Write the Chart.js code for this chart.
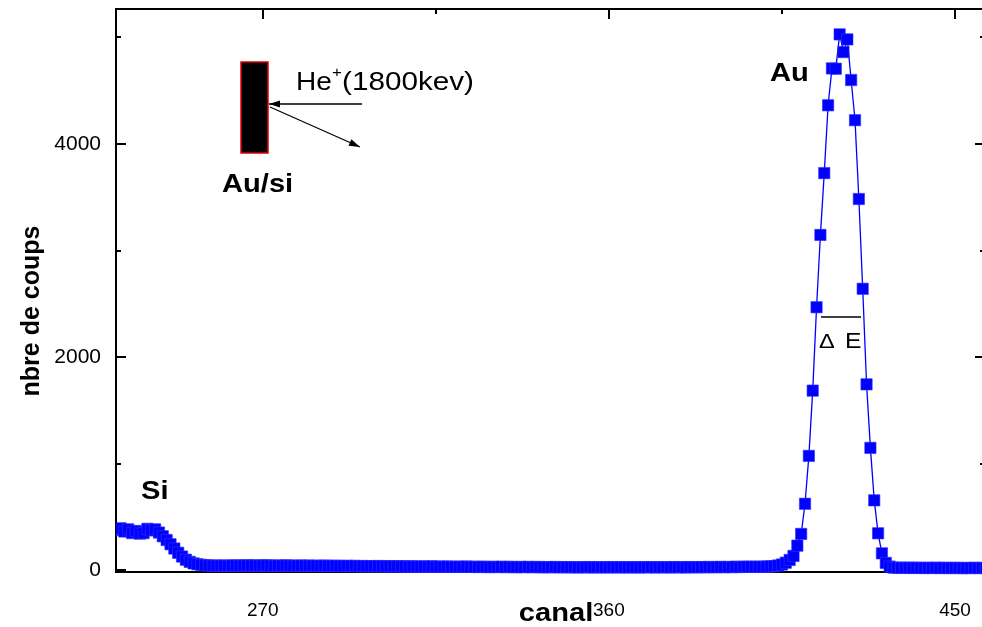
<!DOCTYPE html>
<html><head><meta charset="utf-8">
<script src="https://cdn.jsdelivr.net/npm/chart.js@4/dist/chart.umd.min.js"></script>
<style>
html,body{margin:0;padding:0;overflow:hidden;background:#fff}
#c{display:block;width:982px;height:627px}
</style>
</head><body><canvas id="c" width="982" height="627"></canvas>
<script>
// ---- data (channel -> counts) ----
const siStart = 232;
const siCounts = [380, 395, 365, 385, 350, 370, 345, 350, 390, 375,
                  385, 355, 320, 285, 245, 205, 165, 130, 100, 80,
                  66, 58, 52, 48, 46, 45];
const baselineStart = 258;
const baselineCounts = [
  45, 44, 46, 43, 45, 47, 44, 46, 48, 45,
  47, 44, 46, 48, 45, 43, 46, 44, 47, 45,
  43, 44, 46, 42, 45, 43, 44, 42, 45, 43,
  41, 44, 42, 40, 43, 41, 42, 40, 41, 39,
  40, 38, 41, 39, 37, 40, 38, 39, 37, 38,
  36, 38, 37, 35, 37, 36, 38, 35, 36, 34,
  36, 35, 33, 35, 34, 36, 33, 34, 32, 34,
  33, 31, 33, 32, 34, 31, 33, 32, 30, 32,
  31, 33, 30, 32, 31, 29, 31, 30, 32, 29,
  30, 31, 29, 30, 28, 30, 29, 31, 28, 29,
  30, 28, 29, 31, 28, 30, 29, 28, 30, 29,
  28, 30, 29, 31, 28, 30, 29, 30, 28, 31,
  29, 30, 28, 31, 30, 29, 31, 30, 32, 30,
  31, 33, 30, 32, 31, 34, 32, 33, 35, 34,
  33, 35, 34, 36, 38, 40];
const peakStart = 404;
const peakCounts = [46, 55, 72, 98, 136, 232, 342, 625, 1074, 1686,
                    2468, 3146, 3726, 4362, 4708, 4705, 5027, 4861, 4980, 4599,
                    4222, 3483, 2641, 1745, 1149, 657, 348, 160, 70];
const tailStart = 433;
const tailCounts = [36, 26, 25, 25, 24, 26, 23, 25, 24, 22,
                    24, 23, 25, 22, 24, 23, 22, 24, 23, 21,
                    23, 22, 24, 22, 23, 22];

const xTicks = [270, 360, 450];
const xMinorTicks = [315, 405];
const yTicks = [0, 2000, 4000];
const yMinorTicks = [1000, 3000, 5000];
const xTitle = 'canal';
const yTitle = 'nbre de coups';
const xRange = [231.83, 457.8];
const yRange = [-15, 5265];

// build points from segments
const segments = [[siStart, siCounts], [baselineStart, baselineCounts], [peakStart, peakCounts], [tailStart, tailCounts]];
const points = [];
segments.forEach(([s, arr]) => arr.forEach((c, i) => points.push({x: s + i, y: c})));

const FONT = "'Liberation Sans', Arial, sans-serif";
const SX = 1.12; // horizontal stretch seen in the reference text
const PLOT_RIGHT = 985; // right frame lies just outside the picture

function sText(ctx, txt, x, y, font, align) {
  ctx.save();
  ctx.font = font;
  ctx.textBaseline = 'alphabetic';
  ctx.textAlign = 'left';
  const w = ctx.measureText(txt).width * SX;
  let x0 = x;
  if (align === 'center') x0 = x - w / 2;
  ctx.translate(x0, y);
  ctx.scale(SX, 1);
  ctx.fillText(txt, 0, 0);
  ctx.restore();
}

function arrow(ctx, x1, y1, x2, y2) {
  ctx.beginPath(); ctx.moveTo(x1, y1); ctx.lineTo(x2, y2); ctx.stroke();
  const ang = Math.atan2(y2 - y1, x2 - x1), L = 11, W = 3.5;
  ctx.beginPath();
  ctx.moveTo(x2, y2);
  ctx.lineTo(x2 - L * Math.cos(ang) + W * Math.sin(ang), y2 - L * Math.sin(ang) - W * Math.cos(ang));
  ctx.lineTo(x2 - L * Math.cos(ang) - W * Math.sin(ang), y2 - L * Math.sin(ang) + W * Math.cos(ang));
  ctx.closePath(); ctx.fill();
}

const frame = {
  id: 'frame',
  afterLayout(chart) {
    const a = chart.chartArea;
    a.right = PLOT_RIGHT; a.width = a.right - a.left;
    const x = chart.scales.x;
    x.right = PLOT_RIGHT; x.width = x.right - x.left;
    x.configure();
  },
  beforeDatasetsDraw(chart) {
    const {ctx, chartArea: a, scales: {x, y}} = chart;
    ctx.save();
    ctx.strokeStyle = '#000';
    ctx.lineWidth = 2;
    ctx.strokeRect(a.left, a.top, a.right - a.left, a.bottom - a.top);
    const tick = (len, xs, ys) => {
      ctx.beginPath();
      xs.forEach(v => { const p = Math.round(x.getPixelForValue(v));
        ctx.moveTo(p, a.bottom); ctx.lineTo(p, a.bottom - len);
        ctx.moveTo(p, a.top); ctx.lineTo(p, a.top + len); });
      ys.forEach(v => { const p = Math.round(y.getPixelForValue(v));
        ctx.moveTo(a.left, p); ctx.lineTo(a.left + len, p);
        ctx.moveTo(a.right, p); ctx.lineTo(a.right - len, p); });
      ctx.stroke();
    };
    ctx.lineWidth = 2;
    tick(10, xTicks, yTicks);
    tick(5, xMinorTicks, yMinorTicks);
    ctx.restore();
  },
  afterDraw(chart) {
    const {ctx} = chart;
    ctx.save();
    ctx.fillStyle = '#000';
    // axis titles
    sText(ctx, xTitle, 556, 621, `bold 26px ${FONT}`, 'center');
    ctx.save();
    ctx.translate(32, 311);
    ctx.rotate(-Math.PI / 2);
    ctx.font = `bold 25px ${FONT}`;
    ctx.textAlign = 'center'; ctx.textBaseline = 'middle';
    ctx.fillText(yTitle, 0, 0);
    ctx.restore();
    // peak labels
    sText(ctx, 'Au', 770, 81, `bold 26px ${FONT}`);
    sText(ctx, 'Si', 141, 499, `bold 26px ${FONT}`);
    sText(ctx, 'Au/si', 222, 192, `bold 26px ${FONT}`);
    // sample sketch
    ctx.fillStyle = '#000';
    ctx.fillRect(241, 62, 27, 91);
    ctx.strokeStyle = '#e00000'; ctx.lineWidth = 1.5;
    ctx.strokeRect(241, 62, 27, 91);
    ctx.strokeStyle = '#000'; ctx.lineWidth = 1.3; ctx.fillStyle = '#000';
    arrow(ctx, 362, 104, 269, 104);
    arrow(ctx, 270, 107, 360, 147);
    sText(ctx, 'He', 296, 90, `25px ${FONT}`);
    sText(ctx, '+', 332, 77, `15px ${FONT}`);
    sText(ctx, '(1800kev)', 342, 90, `26.5px ${FONT}`);
    // delta E
    ctx.lineWidth = 1.5;
    ctx.beginPath(); ctx.moveTo(821, 317); ctx.lineTo(861, 317); ctx.stroke();
    sText(ctx, '\u0394', 819, 348, `21px ${FONT}`);
    sText(ctx, 'E', 845, 348, `22px ${FONT}`);
    ctx.restore();
  }
};

new Chart(document.getElementById('c'), {
  type: 'line',
  data: {datasets: [{
    data: points,
    borderColor: '#0000ff', backgroundColor: '#0000ff', borderWidth: 1.3,
    pointStyle: 'rect', pointRadius: 8, pointBorderWidth: 0.6,
    pointBorderColor: '#3030ff', pointBackgroundColor: '#0000ff',
    tension: 0, clip: {left: 0, top: 6, right: 0, bottom: 4}
  }]},
  options: {
    animation: false, responsive: false, maintainAspectRatio: false, events: [],
    devicePixelRatio: 1,
    layout: {padding: {top: 9, right: 0, left: 0, bottom: 0}},
    plugins: {legend: {display: false}, tooltip: {enabled: false}},
    scales: {
      x: {
        type: 'linear', min: xRange[0], max: xRange[1],
        grid: {display: false, drawTicks: false}, border: {display: false},
        afterBuildTicks: s => { s.ticks = xTicks.map(v => ({value: v})); },
        afterFit: s => { s.height = 55; s.paddingLeft = 0; s.paddingRight = 0; },
        ticks: {padding: 27, color: '#000', maxRotation: 0, autoSkip: false,
                font: {family: FONT, size: 19}, callback: v => String(v)}
      },
      y: {
        type: 'linear', min: yRange[0], max: yRange[1],
        grid: {display: false, drawTicks: false}, border: {display: false},
        afterBuildTicks: s => { s.ticks = yTicks.map(v => ({value: v})); },
        afterFit: s => { s.width = 116; s.paddingTop = 0; s.paddingBottom = 0; },
        ticks: {padding: 15, color: '#000', autoSkip: false,
                font: {family: FONT, size: 21}, callback: v => String(v)}
      }
    }
  },
  plugins: [frame]
});
</script>
</body></html>
